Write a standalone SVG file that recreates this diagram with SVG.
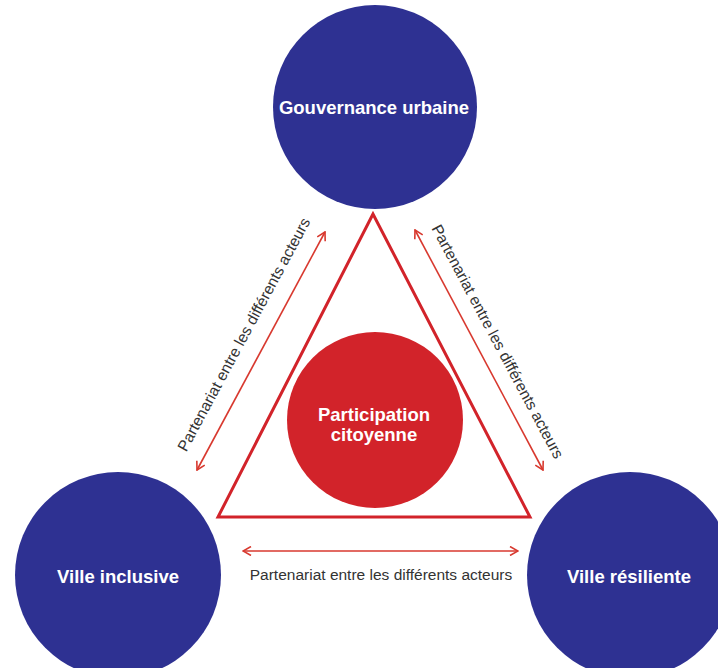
<svg xmlns="http://www.w3.org/2000/svg" width="718" height="668" viewBox="0 0 718 668">
  <defs>
    <marker id="ah" viewBox="0 0 10 10" refX="9" refY="5" markerWidth="10" markerHeight="10" markerUnits="userSpaceOnUse" orient="auto-start-reverse">
      <path d="M1,0.5 L9,5 L1,9.5" fill="none" stroke="#d8392f" stroke-width="1.6"/>
    </marker>
  </defs>
  <style>
    .blue { fill: #2e3192; }
    .red { fill: #d2232a; }
    .lbl { font-family: "Liberation Sans", Arial, sans-serif; font-weight: bold; font-size: 18.5px; fill: #ffffff; text-anchor: middle; }
    .edge { font-family: "Liberation Sans", Arial, sans-serif; font-size: 15.5px; fill: #333333; text-anchor: middle; }
    .arrow { fill: none; stroke: #d8392f; stroke-width: 1.6; marker-start: url(#ah); marker-end: url(#ah); }
  </style>
  <rect width="718" height="668" fill="#ffffff"/>
  <g id="triangle">
    <polygon points="373,214 218,517 530,517" fill="none" stroke="#d2232a" stroke-width="3"/>
  </g>
  <g id="gouvernance">
    <circle class="blue" cx="375" cy="107" r="102"/>
    <text class="lbl" x="374" y="114">Gouvernance urbaine</text>
  </g>
  <g id="inclusive">
    <circle class="blue" cx="118" cy="575" r="103"/>
    <text class="lbl" x="118" y="583">Ville inclusive</text>
  </g>
  <g id="resiliente">
    <circle class="blue" cx="630" cy="575" r="103"/>
    <text class="lbl" x="629" y="583">Ville résiliente</text>
  </g>
  <g id="participation">
    <circle class="red" cx="375" cy="420" r="88"/>
    <text class="lbl" x="374" y="421">Participation</text>
    <text class="lbl" x="374" y="441">citoyenne</text>
  </g>
  <g id="connectors">
    <line class="arrow" x1="197" y1="470" x2="325" y2="232"/>
    <line class="arrow" x1="415" y1="230" x2="543" y2="470"/>
    <line class="arrow" x1="243" y1="551" x2="518" y2="551"/>
    <text class="edge" transform="translate(248.5,337) rotate(-61.7)">Partenariat entre les différents acteurs</text>
    <text class="edge" transform="translate(493,344) rotate(61.9)">Partenariat entre les différents acteurs</text>
    <text class="edge" x="381" y="580">Partenariat entre les différents acteurs</text>
  </g>
</svg>
